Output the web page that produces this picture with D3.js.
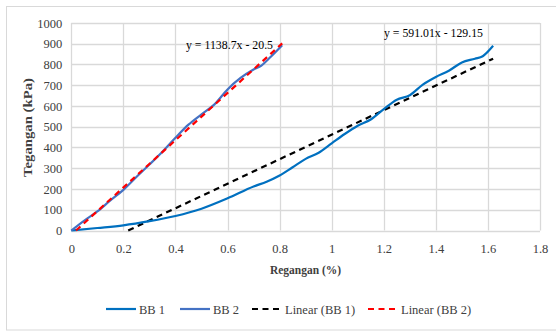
<!DOCTYPE html>
<html><head><meta charset="utf-8">
<script src="https://cdn.jsdelivr.net/npm/d3@7"></script>
</head><body style="margin:0"><svg id="c" width="556" height="331" style="display:block"></svg>
<script>
const xTicks = [0,0.2,0.4,0.6,0.8,1,1.2,1.4,1.6,1.8];
const yTicks = [0,100,200,300,400,500,600,700,800,900,1000];
const bb1X = [0,0.1,0.2,0.3,0.4,0.5,0.6,0.7,0.75,0.8,0.85,0.9,0.95,1.0,1.05,1.1,1.15,1.2,1.25,1.3,1.35,1.4,1.45,1.5,1.55,1.58,1.62];
const bb1Y = [0,12,25,45,70,105,155,212,235,265,305,345,375,420,465,505,535,585,630,652,703,740,770,810,828,840,890];
const bb2X = [0,0.05,0.1,0.15,0.2,0.25,0.3,0.35,0.4,0.45,0.5,0.55,0.6,0.65,0.7,0.73,0.76,0.81];
const bb2Y = [0,48,92,145,196,258,318,380,447,510,560,608,680,735,776,795,830,893];
const trend1 = {m:591.01, b:-129.15, label:"y = 591.01x - 129.15"};
const trend2 = {m:1138.7, b:-20.5, label:"y = 1138.7x - 20.5"};
const legendLabels = ["BB 1","BB 2","Linear (BB 1)","Linear (BB 2)"];

const svg = d3.select("#c");
const x = d3.scaleLinear().domain([0,1.8]).range([71.3,540]);
const y = d3.scaleLinear().domain([0,1000]).range([230.5,23]);

svg.append("rect").attr("x",6.5).attr("y",6.5).attr("width",552).attr("height",323.5)
  .attr("fill","#fff").attr("stroke","#d9d9d9").attr("stroke-width",1);

const g = svg.append("g");
g.selectAll(".vg").data(xTicks).join("line")
  .attr("x1",d=>Math.round(x(d))+0.5).attr("x2",d=>Math.round(x(d))+0.5)
  .attr("y1",y(1000)).attr("y2",y(0)).attr("stroke","#d9d9d9").attr("stroke-width",1.3);
g.selectAll(".hg").data(yTicks).join("line")
  .attr("y1",d=>Math.round(y(d))+0.5).attr("y2",d=>Math.round(y(d))+0.5)
  .attr("x1",x(0)).attr("x2",x(1.8)).attr("stroke","#d9d9d9").attr("stroke-width",1.3);

function styleText(sel, size, weight, fill){
  sel.attr("font-family","Liberation Serif").style("font-family",'"Liberation Serif"')
    .style("font-size",size+"px").style("font-weight",weight||"normal").attr("fill",fill||"#404040");
  return sel;
}

const xa = svg.append("g").attr("transform",`translate(0,${y(0)})`)
  .call(d3.axisBottom(x).tickValues(xTicks).tickFormat(d=>String(+d.toFixed(1))).tickSize(0).tickPadding(14));
xa.attr("font-family",null).attr("font-size",null);
xa.select(".domain").remove();
styleText(xa.selectAll("text"),12.5);
const ya = svg.append("g").attr("transform",`translate(${x(0)},0)`)
  .call(d3.axisLeft(y).tickValues(yTicks).tickFormat(d=>String(d)).tickSize(0).tickPadding(9));
ya.attr("font-family",null).attr("font-size",null);
ya.select(".domain").remove();
styleText(ya.selectAll("text"),12.5);

styleText(svg.append("text").attr("x",305.5).attr("y",273.5).attr("text-anchor","middle")
  .attr("textLength",71).attr("lengthAdjust","spacingAndGlyphs").text("Regangan (%)"),12.5,"bold");
styleText(svg.append("text").attr("transform","translate(32,127.5) rotate(-90)").attr("text-anchor","middle")
  .attr("textLength",99).attr("lengthAdjust","spacingAndGlyphs").text("Tegangan (kPa)"),13,"bold");

const line = d3.line().x(d=>x(d[0])).y(d=>y(d[1])).curve(d3.curveMonotoneX);
const plot = svg.append("g");

function trendPts(t, x0, x1){
  const xs = Math.max(x0, -t.b/t.m);
  return [[xs, t.m*xs+t.b],[x1, t.m*x1+t.b]];
}
plot.append("path").datum(trendPts(trend1, 0, d3.max(bb1X)))
  .attr("d",d3.line().x(d=>x(d[0])).y(d=>y(d[1]))).attr("fill","none")
  .attr("stroke","#000").attr("stroke-width",2.2).attr("stroke-dasharray","6,4.5");
plot.append("path").datum(bb1X.map((v,i)=>[v,bb1Y[i]])).attr("d",line)
  .attr("fill","none").attr("stroke","#0070c0").attr("stroke-width",2.2);
plot.append("path").datum(bb2X.map((v,i)=>[v,bb2Y[i]])).attr("d",line)
  .attr("fill","none").attr("stroke","#4472c4").attr("stroke-width",2.2);
plot.append("path").datum(trendPts(trend2, 0, d3.max(bb2X)))
  .attr("d",d3.line().x(d=>x(d[0])).y(d=>y(d[1]))).attr("fill","none")
  .attr("stroke","#ff0000").attr("stroke-width",2.2).attr("stroke-dasharray","6,4.5");

styleText(svg.append("text").attr("x",186).attr("y",49).attr("textLength",87).attr("lengthAdjust","spacingAndGlyphs").text(trend2.label),12.5,"normal","#000");
styleText(svg.append("text").attr("x",384).attr("y",37).attr("textLength",99).attr("lengthAdjust","spacingAndGlyphs").text(trend1.label),12.5,"normal","#000");

const legX = [106,180,252,368];
const legStyles = [
  {c:"#0070c0",dash:null},{c:"#4472c4",dash:null},{c:"#000",dash:"6,4.5"},{c:"#ff0000",dash:"6,4.5"}];
const lg = svg.append("g");
legendLabels.forEach((lab,i)=>{
  lg.append("line").attr("x1",legX[i]).attr("x2",legX[i]+30).attr("y1",309).attr("y2",309)
    .attr("stroke",legStyles[i].c).attr("stroke-width",2.2).attr("stroke-dasharray",legStyles[i].dash);
  styleText(lg.append("text").attr("x",legX[i]+33).attr("y",313.5).text(lab),12.5);
});
</script></body></html>
